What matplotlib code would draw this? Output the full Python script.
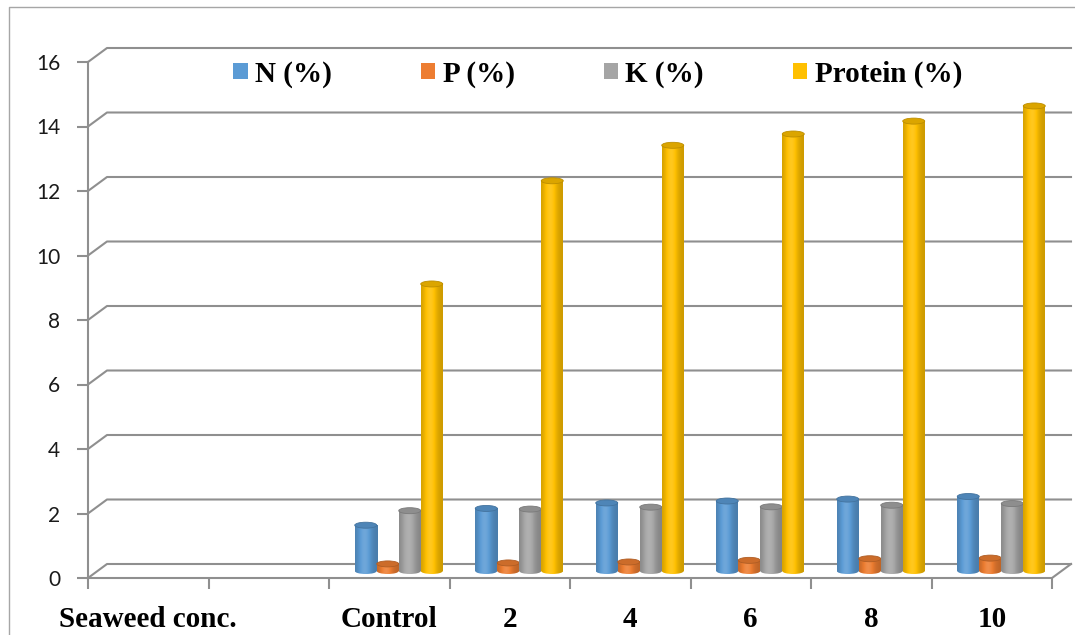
import matplotlib.pyplot as plt
import matplotlib.patches as mpatches
from matplotlib.lines import Line2D
from matplotlib.colors import to_rgb
import numpy as np

# categories along the floor (second slot is left empty)
categories = ['Seaweed conc.', '', 'Control', '2', '4', '6', '8', '10']
first_treatment = 2

# mineral and protein content per treatment (Control, 2, 4, 6, 8, 10)
n_pct = [1.42, 1.94, 2.11, 2.17, 2.23, 2.31]
p_pct = [0.22, 0.25, 0.28, 0.33, 0.38, 0.40]
k_pct = [1.87, 1.92, 1.98, 1.99, 2.04, 2.09]
protein_pct = [8.9, 12.1, 13.2, 13.55, 13.95, 14.42]

series = [n_pct, p_pct, k_pct, protein_pct]
series_names = ['N (%)', 'P (%)', 'K (%)', 'Protein (%)']
series_colors = ['#5B9BD5', '#ED7D31', '#A5A5A5', '#FFC000']
yticks = [0, 2, 4, 6, 8, 10, 12, 14, 16]

W, H = 1075, 635
fig = plt.figure(figsize=(W / 100, H / 100), dpi=100)
ax = fig.add_axes([88 / W, (H - 578) / H, 964 / W, 516 / H])
ax.set_xlim(0, len(categories))
ax.set_ylim(0, 16)

px_x = 964 / len(categories)   # pixels per category
px_y = 516 / 16                # pixels per unit
back_dx, back_dy = 19 / px_x, 14 / px_y   # depth of the 3-D box
mid_dx, mid_dy = back_dx / 2, back_dy / 2
bw = 22 / px_x                 # cylinder width
eh = 6 / px_y                  # height of the elliptical caps

grid_col = '#8f8f8f'

# back wall gridlines with the little diagonal from the front axis
for v in yticks:
    ax.plot([0, back_dx, len(categories) + back_dx], [v, v + back_dy, v + back_dy],
            color=grid_col, lw=1.5, clip_on=False, zorder=1)
# front axis and floor edges
ax.plot([0, 0], [0, 16], color=grid_col, lw=1.5, clip_on=False, zorder=1)
ax.plot([0, len(categories), len(categories) + back_dx], [0, 0, back_dy],
        color=grid_col, lw=1.5, clip_on=False, zorder=1)


def shade(color, n=64):
    base = np.array(to_rgb(color))
    t = np.linspace(0, 1, n)[:, None]
    f = 0.8 + 0.3 * np.exp(-((t - 0.42) / 0.3) ** 2)
    rgb = np.where(f <= 1, base * f, base + (1 - base) * (f - 1) * 1.2)
    return np.clip(rgb, 0, 1)[None, :, :]


for j, (vals, col) in enumerate(zip(series, series_colors)):
    img = shade(col)
    base = np.array(to_rgb(col))
    z = 3 + j
    for i, v in enumerate(vals):
        xc = first_treatment + i + 0.5 + (j - 1.5) * bw + mid_dx
        x0, x1 = xc - bw / 2, xc + bw / 2
        # cylinder body
        ax.imshow(img, extent=[x0, x1, mid_dy, v + mid_dy], aspect='auto',
                  interpolation='bilinear', zorder=z)
        # rounded bottom
        bottom = mpatches.Ellipse((xc, mid_dy), bw, eh, transform=ax.transData)
        im = ax.imshow(img, extent=[x0, x1, mid_dy - eh / 2, mid_dy + eh / 2],
                       aspect='auto', interpolation='bilinear', zorder=z)
        im.set_clip_path(bottom)
        # top disc
        ax.add_patch(mpatches.Ellipse((xc, v + mid_dy), bw, eh,
                                      facecolor=base * 0.86, edgecolor=base * 0.74,
                                      lw=0.6, zorder=z + 0.5))

ax.set_xlim(0, len(categories))
ax.set_ylim(0, 16)

for s in ax.spines.values():
    s.set_visible(False)

ax.set_yticks(yticks)
ax.set_yticklabels([str(v) for v in yticks], family='Lato', fontsize=15, color='#1a1a1a')
ax.tick_params(axis='y', length=8, width=1.5, color=grid_col, pad=12)

ax.set_xticks(range(len(categories) + 1))
ax.set_xticklabels([])
ax.tick_params(axis='x', which='major', length=8, width=1.5, color=grid_col)
ax.set_xticks(np.arange(len(categories)) + 0.5, minor=True)
ax.set_xticklabels(categories, minor=True, family='Liberation Serif',
                   fontweight='bold', fontsize=21, color='black')
ax.tick_params(axis='x', which='minor', length=0, pad=20)

handles = [mpatches.Patch(facecolor=c, edgecolor='none') for c in series_colors]
fig.legend(handles, series_names, loc='center left', ncol=4,
           bbox_to_anchor=(233 / W, 1 - 74 / H), frameon=False, borderpad=0,
           borderaxespad=0, handlelength=0.5, handleheight=0.5, handletextpad=0.25,
           columnspacing=3.05,
           prop={'family': 'Liberation Serif', 'weight': 'bold', 'size': 21})

# chart area border (left and top edges)
fig.add_artist(Line2D([8.5 / W, 8.5 / W, 1], [0, 1 - 7 / H, 1 - 7 / H],
                      transform=fig.transFigure, color='#a6a6a6', lw=1))

fig.savefig('out.png', dpi=100)
